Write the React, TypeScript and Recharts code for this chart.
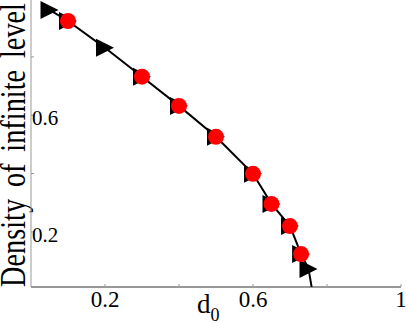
import React from "react";
import { ComposedChart, Line, Scatter, XAxis, YAxis } from "recharts";

// black curve (triangle markers) and red circles
const d0Line = [0.05, 0.1, 0.2, 0.3, 0.4, 0.5, 0.6, 0.65, 0.7, 0.73, 0.75, 0.76];
const densLine = [0.961, 0.923, 0.831, 0.732, 0.632, 0.526, 0.399, 0.296, 0.22, 0.124, 0.073, 0.0];
const d0Red = [0.1, 0.3, 0.4, 0.5, 0.6, 0.65, 0.7, 0.73];
const densRed = [0.923, 0.732, 0.632, 0.526, 0.399, 0.296, 0.22, 0.124];

const xTicks = [0.2, 0.4, 0.6, 0.8, 1];
const xLabeled = [0.2, 0.6, 1];
const yTicks = [0.2, 0.4, 0.6, 0.8];
const yLabeled = [0.2, 0.6];
const yDomain: [number, number] = [0.011, 0.995];

const lineData = d0Line.map((x, i) => ({ x, y: densLine[i] }));
const redData = d0Red.map((x, i) => ({ x, y: densRed[i] }));

const SERIF = "'Liberation Serif', 'DejaVu Serif', serif";

const XTick = ({ x, y, payload }: any) => {
  const v = payload.value;
  return (
    <g>
      <line x1={x} x2={x} y1={y - 3} y2={y} stroke="#999" />
      {xLabeled.includes(v) && (
        <text x={x} y={y + 20} textAnchor="middle" fontSize={23} fontFamily={SERIF} fill="#000">
          {String(v)}
        </text>
      )}
    </g>
  );
};

const YTick = ({ x, y, payload }: any) => {
  const v = payload.value;
  return (
    <g>
      <line x1={x} x2={x + 3} y1={y} y2={y} stroke="#999" />
      {yLabeled.includes(v) && (
        <text x={x + 1} y={y + 10} textAnchor="start" fontSize={21} fontFamily={SERIF} fill="#000">
          {String(v)}
        </text>
      )}
    </g>
  );
};

// right-pointing triangle marker, hidden below the axis
const Tri = ({ cx, cy, payload }: any) => {
  if (cx == null || cy == null || payload.y < yDomain[0]) return null;
  const s = 9;
  return (
    <path
      d={`M${cx - s},${cy - s} L${cx + s},${cy} L${cx - s},${cy + s} Z`}
      fill="#000"
    />
  );
};

const RedDot = ({ cx, cy }: any) => <circle cx={cx} cy={cy} r={8} fill="#ff0000" />;

export default function App() {
  return (
    <div style={{ position: "absolute", left: 0, top: 0, width: 407, height: 323, background: "#fff" }}>
      <ComposedChart
        width={407}
        height={323}
        data={lineData}
        margin={{ top: 0, right: 6, bottom: 0, left: 0 }}
      >
        <XAxis
          dataKey="x"
          type="number"
          domain={[0, 1]}
          ticks={xTicks}
          height={36}
          tickSize={0}
          tickMargin={0}
          tickLine={false}
          axisLine={{ stroke: "#333" }}
          tick={<XTick />}
          label={({ viewBox }: any) => (
            <text x={197} y={viewBox.y + 26} fontFamily={SERIF} fill="#000">
              <tspan fontSize={27}>d</tspan>
              <tspan fontSize={18} dy={8}>0</tspan>
            </text>
          )}
        />
        <XAxis xAxisId="top" orientation="top" type="number" domain={[0, 1]} height={0} tick={false} tickLine={false} axisLine={{ stroke: "#999" }} />
        <YAxis
          type="number"
          domain={yDomain}
          allowDataOverflow
          ticks={yTicks}
          width={31}
          tickSize={0}
          tickMargin={0}
          tickLine={false}
          axisLine={{ stroke: "#999" }}
          tick={<YTick />}
        />
        <YAxis yAxisId="right" orientation="right" type="number" domain={yDomain} width={0} tick={false} tickLine={false} axisLine={{ stroke: "#999" }} />
        <Line
          dataKey="y"
          stroke="#000"
          strokeWidth={2}
          dot={<Tri />}
          activeDot={false}
          isAnimationActive={false}
        />
        <Scatter data={redData} dataKey="y" shape={<RedDot />} isAnimationActive={false} />
        <text
          x={25}
          y={145}
          transform="rotate(-90 25 145)"
          textAnchor="middle"
          fontSize={36}
          textLength={284}
          lengthAdjust="spacingAndGlyphs"
          fontFamily={SERIF}
          wordSpacing={6}
          fill="#000"
        >
          Density of infinite level
        </text>
      </ComposedChart>
    </div>
  );
}
